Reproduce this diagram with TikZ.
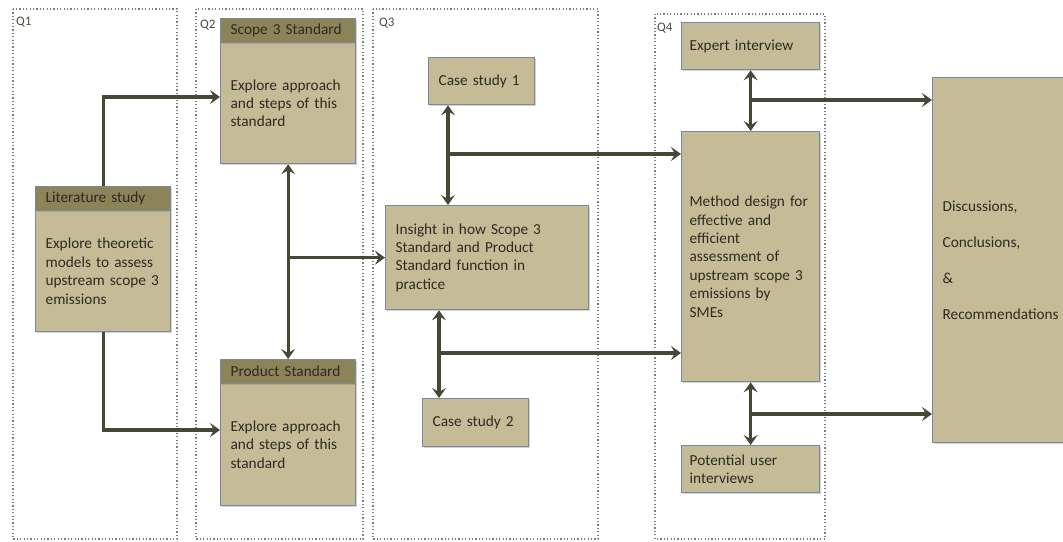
\documentclass[tikz,border=0pt]{standalone}
\usepackage{fontspec}
\setmainfont{Carlito}
\usetikzlibrary{arrows.meta,shadows}

\definecolor{boxfill}{RGB}{197,188,151}
\definecolor{headfill}{RGB}{140,132,88}
\definecolor{boxline}{RGB}{122,137,156}
\definecolor{arrowcol}{RGB}{72,71,54}
\definecolor{txt}{RGB}{45,43,32}
\definecolor{framecol}{RGB}{125,125,125}

\tikzset{
  box/.style={draw=boxline, line width=1.3pt, fill=boxfill,
    drop shadow={shadow xshift=1.6pt, shadow yshift=-1.6pt, opacity=0.35},
    text=txt, font=\fontsize{15.3}{18.4}\selectfont, align=left,
    inner xsep=10pt, inner ysep=0pt, anchor=north west},
  head/.style={box, fill=headfill, minimum height=24pt},
  qframe/.style={draw=framecol, line width=1.1pt, dash pattern=on 1.2pt off 2.2pt},
  qlabel/.style={anchor=west, inner sep=0pt, text=txt!85, font=\fontsize{13}{15}\selectfont},
  tip/.tip={Stealth[length=10pt,width=14pt,inset=4pt]},
  arr/.style={draw=arrowcol, line width=3.2pt, -tip},
  darr/.style={draw=arrowcol, line width=3.2pt, tip-tip}
}

\begin{document}
\begin{tikzpicture}[x=1pt,y=-1pt]
\useasboundingbox (0,0) rectangle (1063,541);
\clip (0,0) rectangle (1063,541);

% dotted frames of the four research questions
\draw[qframe] (13,9) rectangle (177,539);
\draw[qframe] (196,9) rectangle (363,539);
\draw[qframe] (373,9) rectangle (598,539);
\draw[qframe] (655,14) rectangle (825,539);
\node[qlabel] (q1) at (16,22) {Q1};
\node[qlabel] (q2) at (200,25) {Q2};
\node[qlabel] (q3) at (379,23) {Q3};
\node[qlabel] (q4) at (657,28) {Q4};

% Q1
\node[box, text width=115pt, minimum height=121pt] (lit) at (35,210)
  {Explore theoretic\\models to assess\\upstream scope 3\\emissions};
\node[head, text width=115pt] (lith) at (35,186) {Literature study};

% Q2
\node[box, text width=115pt, minimum height=121pt] (s3) at (220,42)
  {Explore approach\\and steps of this\\standard};
\node[head, text width=115pt] (s3h) at (220,18) {Scope 3 Standard};
\node[box, text width=115pt, minimum height=122pt] (pb) at (220,383)
  {Explore approach\\and steps of this\\standard};
\node[head, text width=115pt] (ph) at (220,359) {Product Standard};

% Q3
\node[box, text width=86pt, minimum height=47pt] (cs1) at (428,57) {Case study 1};
\node[box, text width=183pt, minimum height=104pt] (ins) at (385,205)
  {Insight in how Scope 3\\Standard and Product\\Standard function in\\practice};
\node[box, text width=86pt, minimum height=48pt] (cs2) at (422,398) {Case study 2};

% Q4
\node[box, text width=122pt, inner xsep=8pt, minimum height=47pt] (exp) at (681,22)
  {Expert interview};
\node[box, text width=122pt, inner xsep=8pt, minimum height=250pt] (mt) at (681,131)
  {Method design for\\effective and\\efficient\\assessment of\\upstream scope 3\\emissions by\\SMEs};
\node[box, text width=122pt, inner xsep=8pt, minimum height=47pt] (pot) at (681,445)
  {Potential user\\interviews};

% final stage
\node[box, text width=120pt, minimum height=365pt] (disc) at (932,77)
  {Discussions,\\[17.5pt]Conclusions,\\[17.5pt]\&\\[17.5pt]Recommendations};

% levels of the connectors
\coordinate (ya) at (0,97);
\coordinate (yb) at (0,430);
\coordinate (xc) at (448,0);
\coordinate (yc) at (0,154);
\coordinate (xd) at (439,0);
\coordinate (yd) at (0,353);
\coordinate (ye) at (0,100);
\coordinate (yf) at (0,414);

% connectors
\draw[arr] (lith.north) |- (s3.west |- ya);
\draw[arr] (lit.south) |- (pb.west |- yb);
\draw[darr] (s3.south) -- (ph.north);
\draw[arr] (s3.south |- ins.west) -- (ins.west);
\draw[darr] (cs1.south -| xc) -- (ins.north -| xc);
\draw[arr] (xc |- yc) -- (mt.west |- yc);
\draw[darr] (ins.south -| xd) -- (cs2.north -| xd);
\draw[arr] (xd |- yd) -- (mt.west |- yd);
\draw[darr] (exp.south) -- (mt.north);
\draw[arr] (exp.south |- ye) -- (disc.west |- ye);
\draw[darr] (mt.south) -- (pot.north);
\draw[arr] (mt.south |- yf) -- (disc.west |- yf);
\end{tikzpicture}
\end{document}
